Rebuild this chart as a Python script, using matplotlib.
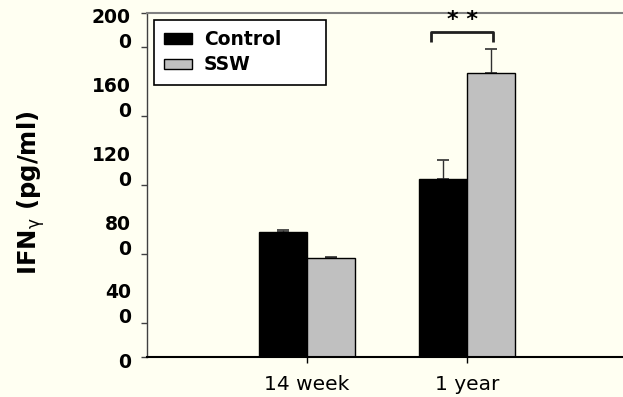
import matplotlib
matplotlib.use('Agg')
import matplotlib.pyplot as plt
import numpy as np

plt.rcParams['mathtext.fontset'] = 'dejavusans'
plt.rcParams['mathtext.default'] = 'rm'

groups = ['14 week', '1 year']
control = [725, 1033]
control_err = [12, 112]
ssw = [577, 1651]
ssw_err = [6, 138]
ytick_values = [0, 400, 800, 1200, 1600, 2000]
ytick_marks = [0, 200, 600, 1000, 1400, 1800, 2000]

bg = '#FFFFF2'
fig = plt.figure(figsize=(6.23, 3.97), dpi=100, facecolor=bg)
ax = fig.add_axes([147 / 623, 40 / 397, 476 / 623, 344 / 397])
ax.set_facecolor(bg)

x = np.arange(len(groups))
w = 0.3
ax.bar(x - w / 2, control, w, color='black', edgecolor='black', linewidth=1,
       label='Control', zorder=2)
ax.bar(x + w / 2, ssw, w, color='#C0C0C0', edgecolor='black', linewidth=1,
       label='SSW', zorder=2)
ax.errorbar(x - w / 2, control, yerr=[np.zeros(len(x)), control_err], fmt='none',
            ecolor='#303030', elinewidth=1, capsize=4, capthick=1.2, zorder=1)
ax.errorbar(x + w / 2, ssw, yerr=[np.zeros(len(x)), ssw_err], fmt='none',
            ecolor='#303030', elinewidth=1, capsize=4, capthick=1.2, zorder=1)

ax.set_xlim(-1, 1.973)
ax.set_ylim(0, 2000)
ax.set_xticks(x)
ax.set_xticklabels(groups, fontsize=14.5)
ax.tick_params(axis='x', direction='out', length=4, width=1, pad=9)
ax.set_yticks(ytick_marks)
ax.set_yticklabels([])
ax.tick_params(axis='y', direction='out', length=4, width=1, color='#404040')

# wrapped y tick labels, as in the original
for v in ytick_values:
    s = str(v)
    lab = s if len(s) == 1 else s[:-1] + '\n' + s[-1]
    yy = v - 30 if v == 0 else v - 100
    ax.text(-0.034, yy, lab, transform=ax.get_yaxis_transform(), ha='right',
            va='center', multialignment='right', fontsize=13.5,
            fontweight='bold', linespacing=1.39)

ax.spines['right'].set_visible(False)
ax.spines['top'].set_color('#808080')
ax.spines['top'].set_linewidth(1.5)
ax.spines['left'].set_color('#404040')
ax.spines['left'].set_linewidth(1)
ax.spines['bottom'].set_color('black')
ax.spines['bottom'].set_linewidth(1.5)

# significance bracket
bx0, bx1, by, bleg = 0.773, 1.1625, 1888, 1833
ax.plot([bx0, bx0, bx1, bx1], [bleg, by, by, bleg], color='#202020', lw=2,
        clip_on=False, solid_capstyle='butt')
ax.text((bx0 + bx1) / 2, 1925, '* *', ha='center', va='baseline',
        fontsize=16, fontweight='bold')

fig.text(31 / 623, 1 - 193 / 397, r'IFN$_{\gamma}$ (pg/ml)', rotation=90,
         ha='center', va='center', fontsize=17.5, fontweight='bold')

leg = ax.legend(loc='upper left', bbox_to_anchor=(154 / 623, 0, 172 / 623, 1 - 20 / 397),
                bbox_transform=fig.transFigure, mode='expand', borderaxespad=0,
                fancybox=False, frameon=True, prop={'weight': 'bold', 'size': 13.5},
                handlelength=1.5, handleheight=0.48, handletextpad=0.62,
                borderpad=0.55, labelspacing=0.33)
leg.get_frame().set_edgecolor('black')
leg.get_frame().set_linewidth(1.2)
leg.get_frame().set_facecolor('white')
leg.get_frame().set_alpha(1)

fig.savefig('out.png', dpi=100, facecolor=bg)
